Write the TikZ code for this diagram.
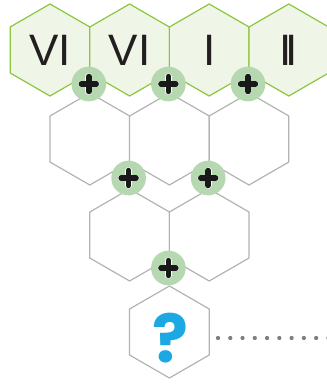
\documentclass[tikz,border=0pt]{standalone}
\usepackage{fontspec}
\setmainfont{Liberation Sans}
\newfontfamily\qfont{Poppins}
\usetikzlibrary{shapes.geometric}
\definecolor{hexgreen}{HTML}{8CC63F}
\definecolor{hexfill}{HTML}{EFF5E7}
\definecolor{plusfill}{HTML}{B5D8B0}
\definecolor{hexgray}{HTML}{B3B3B3}
\definecolor{qblue}{HTML}{1BA8E3}
\definecolor{numcol}{HTML}{231F20}
\definecolor{dotgray}{HTML}{7F7F7F}
\begin{document}
\begin{tikzpicture}[x=0.75pt,y=-0.75pt,
  hexbox/.style={regular polygon, regular polygon sides=6, shape border rotate=30,
    minimum size=69pt, inner sep=0pt, outer sep=0pt, line width=0.9pt},
  tophex/.style={hexbox, draw=hexgreen, fill=hexfill, text=numcol,
    font=\fontsize{33}{33}\selectfont},
  grayhex/.style={hexbox, draw=hexgray, fill=white},
  plusdot/.style={circle, fill=plusfill, minimum size=26pt, inner sep=0pt, outer sep=0pt,
    path picture={
      \draw[white, line width=5pt, line cap=round]
        ([xshift=-5.6pt]path picture bounding box.center) -- ([xshift=5.6pt]path picture bounding box.center)
        ([yshift=-5.6pt]path picture bounding box.center) -- ([yshift=5.6pt]path picture bounding box.center);
      \draw[black!90, line width=4.1pt, line cap=round]
        ([xshift=-5.6pt]path picture bounding box.center) -- ([xshift=5.6pt]path picture bounding box.center)
        ([yshift=-5.6pt]path picture bounding box.center) -- ([yshift=5.6pt]path picture bounding box.center);
    }},
  dotline/.style={dotgray, line width=3.2pt, line cap=round, dash pattern=on 0pt off 9.2pt},
  qmark/.style={text=qblue, font=\qfont\bfseries\fontsize{50}{50}\selectfont, inner sep=0pt}
]
\useasboundingbox (0,0) rectangle (327,384);
% row 4
\node[grayhex] (q) at (169.4,332) {};
% row 3
\node[grayhex] (c1) at (129.6,235) {};
\node[grayhex] (c2) at (209.2,235) {};
% row 2
\node[grayhex] (b1) at (89.8,139) {};
\node[grayhex] (b2) at (169.4,139) {};
\node[grayhex] (b3) at (249.0,139) {};
% row 1
\node[tophex] (a1) at (50,50) {VI};
\node[tophex] (a2) at (129.6,50) {VI};
\node[tophex] (a3) at (209.2,50) {I};
\node[tophex] (a4) at (288.8,50) {I\kern-0.13em I};
% plus circles
\node[plusdot] (p1) at (88.8,84) {};
\node[plusdot] (p2) at (168.4,84) {};
\node[plusdot] (p3) at (248.0,84) {};
\node[plusdot] (p4) at (128.6,178) {};
\node[plusdot] (p5) at (208.2,178) {};
\node[plusdot] (p6) at (168.4,268) {};
% question mark
\node[qmark] (qm) at (170,338) {?};
% dotted line
\coordinate (dotstart) at (218,338);
\coordinate (dotend) at (330,338);
\draw[dotline] (dotstart) -- (dotend);
\end{tikzpicture}
\end{document}
